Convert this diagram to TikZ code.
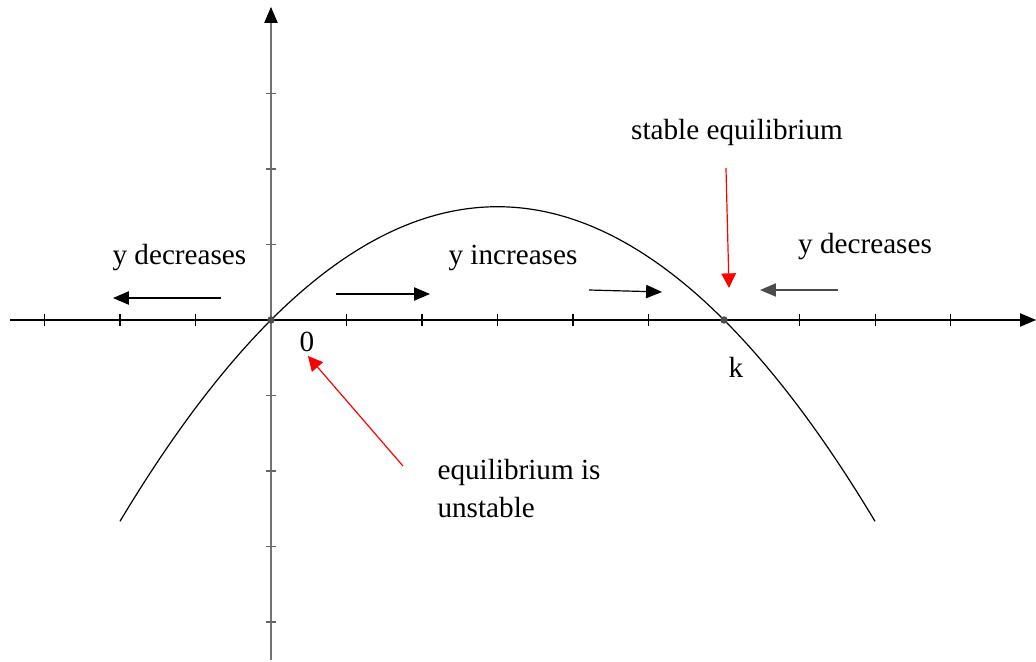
\documentclass[tikz,border=0pt]{standalone}
\usepackage{fontspec}
\setmainfont{Liberation Serif}
\usetikzlibrary{arrows.meta}
\tikzset{
  lbl/.style={font=\fontsize{11}{14}\selectfont, inner sep=0pt},
  axis/.style={line width=0.45pt, -{Triangle[length=6pt,width=5pt,color=black,fill=black]}},
  dirarrow/.style={line width=0.45pt, -{Triangle[length=6pt,width=5pt]}},
  redarrow/.style={red, line width=0.45pt, -{Triangle[length=5.5pt,width=5.5pt]}},
  tick/.style={line width=0.4pt},
  eqdot/.style={circle, fill=black!70, inner sep=0pt, minimum size=2.8pt}
}
\begin{document}
\begin{tikzpicture}
\useasboundingbox (-3.589,-4.517) rectangle (10.132,4.238);
% axes
\coordinate (xs) at (-3.457,0);
\coordinate (xe) at (10.132,0);
\coordinate (ys) at (0,-4.503);
\coordinate (ye) at (0,4.146);
\draw[axis] (xs) -- (xe);
\draw[axis, draw=black!55] (ys) -- (ye);
% ticks
\foreach \i in {-3,-2,-1,1,2,3,4,5,7,8,9}
  \draw[tick] (\i,-0.08) -- (\i,0.08);
\foreach \j in {-4,-3,-2,-1,1,2,3}
  \draw[tick, black!60] (-0.07,\j) -- (0.07,\j);
% parabola
\draw[line width=0.45pt] plot[domain=-2:8, samples=120, smooth] (\x,{\x*(6-\x)/6});
% equilibrium dots
\node[eqdot] (o) at (0,0) {};
\node[eqdot] (kk) at (6,0) {};
% labels
\node[lbl] (yd1) at (-1.212,0.821) {y decreases};
\node[lbl] (yi) at (3.205,0.821) {y increases};
\node[lbl] (se) at (6.172,2.477) {stable equilibrium};
\node[lbl] (yd2) at (7.868,0.967) {y decreases};
\node[lbl] (zero) at (0.477,-0.291) {0};
\node[lbl] (klab) at (6.159,-0.623) {k};
\node[lbl, anchor=west, align=left] (ue) at (2.199,-2.232) {equilibrium is\\unstable};
% direction arrows
\coordinate (a1s) at (-0.662,0.291); \coordinate (a1e) at (-2.093,0.291);
\coordinate (a2s) at (0.861,0.344);  \coordinate (a2e) at (2.106,0.344);
\coordinate (a3s) at (4.212,0.397);  \coordinate (a3e) at (5.179,0.371);
\coordinate (a4s) at (7.510,0.397);  \coordinate (a4e) at (6.477,0.397);
\draw[dirarrow] (a1s) -- (a1e);
\draw[dirarrow] (a2s) -- (a2e);
\draw[dirarrow] (a3s) -- (a3e);
\draw[dirarrow, draw=black!70] (a4s) -- (a4e);
% red arrows
\coordinate (r1s) at (6.026,2.013); \coordinate (r1e) at (6.066,0.424);
\coordinate (r2s) at (1.748,-1.934); \coordinate (r2e) at (0.490,-0.477);
\draw[redarrow] (r1s) -- (r1e);
\draw[redarrow] (r2s) -- (r2e);
\end{tikzpicture}
\end{document}
